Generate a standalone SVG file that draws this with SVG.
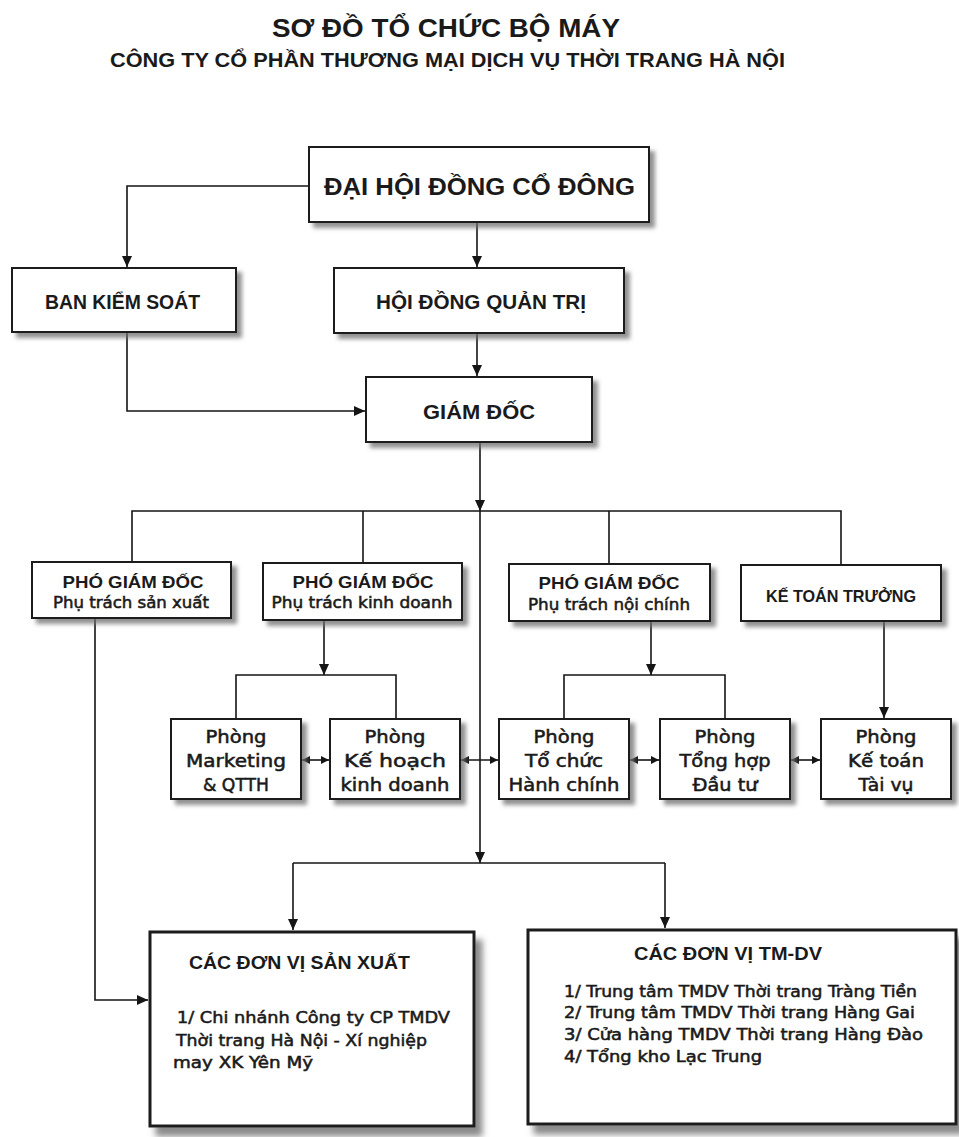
<svg xmlns="http://www.w3.org/2000/svg" width="959" height="1137" viewBox="0 0 959 1137">
<style>
.bg{fill:#ffffff}
.box{fill:#ffffff;stroke:#1c1c1c;stroke-width:2}
.bigbox{fill:#ffffff;stroke:#1c1c1c;stroke-width:3}
.cap{font-family:"Liberation Sans",Arial,sans-serif;font-weight:bold;fill:#1a1a1a}
.mix{font-family:"DejaVu Sans","Liberation Sans",sans-serif;fill:#1a1a1a;stroke:#1a1a1a;stroke-width:0.55}
.mid{text-anchor:middle}
.ln{fill:none;stroke:#151515;stroke-width:1.6}
</style>
<defs>
<filter id="sh" x="-10%" y="-10%" width="130%" height="150%">
<feGaussianBlur in="SourceAlpha" stdDeviation="2.2"/>
<feOffset dx="5" dy="5" result="b"/>
<feFlood flood-color="#6e6e6e" flood-opacity="0.75"/>
<feComposite in2="b" operator="in"/>
<feMerge><feMergeNode/><feMergeNode in="SourceGraphic"/></feMerge>
</filter>
<filter id="shb" x="-10%" y="-10%" width="130%" height="130%">
<feGaussianBlur in="SourceAlpha" stdDeviation="3"/>
<feOffset dx="7" dy="9" result="b"/>
<feFlood flood-color="#6e6e6e" flood-opacity="0.8"/>
<feComposite in2="b" operator="in"/>
<feMerge><feMergeNode/><feMergeNode in="SourceGraphic"/></feMerge>
</filter>
<marker id="ar" markerUnits="userSpaceOnUse" markerWidth="11" markerHeight="10" refX="11" refY="5" orient="auto">
<path d="M0,0 L11,5 L0,10 z" fill="#151515"/>
</marker>
<marker id="ars" markerUnits="userSpaceOnUse" markerWidth="8" markerHeight="8" refX="8" refY="4" orient="auto-start-reverse">
<path d="M0,0 L8,4 L0,8 z" fill="#151515"/>
</marker>
</defs>
<rect class="bg" x="0" y="0" width="959" height="1137"/>

<g id="title">
<text class="cap" x="272" y="37" font-size="25" textLength="348" lengthAdjust="spacingAndGlyphs">SƠ ĐỒ TỔ CHỨC BỘ MÁY</text>
<text class="cap" x="110" y="67" font-size="20.5" textLength="675" lengthAdjust="spacingAndGlyphs">CÔNG TY CỔ PHẦN THƯƠNG MẠI DỊCH VỤ THỜI TRANG HÀ NỘI</text>
</g>

<g id="connectors">
<path class="ln" d="M309,186 H127 V267" marker-end="url(#ar)"/>
<path class="ln" d="M477,222 V267" marker-end="url(#ar)"/>
<path class="ln" d="M477,333 V376" marker-end="url(#ar)"/>
<path class="ln" d="M127,332 V411 H365" marker-end="url(#ar)"/>
<path class="ln" d="M480,442 V511" marker-end="url(#ar)"/>
<path class="ln" d="M480,511 V863" marker-end="url(#ar)"/>
<path class="ln" d="M132,562 V511 H841 V564 M363,511 V562 M609,511 V563"/>
<path class="ln" d="M95,618 V1000 H148" marker-end="url(#ar)"/>
<path class="ln" d="M324,620 V675" marker-end="url(#ar)"/>
<path class="ln" d="M236,719 V675 H396 V719"/>
<path class="ln" d="M651,621 V675" marker-end="url(#ar)"/>
<path class="ln" d="M564,719 V675 H725 V719"/>
<path class="ln" d="M884,621 V718" marker-end="url(#ar)"/>
<path class="ln" d="M293,863 H665"/>
<path class="ln" d="M293,863 V930" marker-end="url(#ar)"/>
<path class="ln" d="M665,863 V928" marker-end="url(#ar)"/>
<path class="ln" d="M302,760 H329" marker-start="url(#ars)" marker-end="url(#ars)"/>
<path class="ln" d="M461,760 H498" marker-start="url(#ars)" marker-end="url(#ars)"/>
<path class="ln" d="M630,760 H659" marker-start="url(#ars)" marker-end="url(#ars)"/>
<path class="ln" d="M791,760 H820" marker-start="url(#ars)" marker-end="url(#ars)"/>
</g>

<g id="dhdcd">
<rect class="box" x="309" y="147" width="340" height="75" filter="url(#sh)"/>
<text class="cap" x="324" y="195" font-size="24" textLength="311" lengthAdjust="spacingAndGlyphs">ĐẠI HỘI ĐỒNG CỔ ĐÔNG</text>
</g>

<g id="bks">
<rect class="box" x="12" y="268" width="224" height="64" filter="url(#sh)"/>
<text class="cap" x="45" y="309" font-size="20" textLength="155" lengthAdjust="spacingAndGlyphs">BAN KIỂM SOÁT</text>
</g>

<g id="hdqt">
<rect class="box" x="334" y="268" width="290" height="65" filter="url(#sh)"/>
<text class="cap" x="376" y="309" font-size="20" textLength="210" lengthAdjust="spacingAndGlyphs">HỘI ĐỒNG QUẢN TRỊ</text>
</g>

<g id="giamdoc">
<rect class="box" x="366" y="377" width="226" height="65" filter="url(#sh)"/>
<text class="cap" x="423" y="419" font-size="20" textLength="112" lengthAdjust="spacingAndGlyphs">GIÁM ĐỐC</text>
</g>

<g id="pgd-sx">
<rect class="box" x="32" y="562" width="199" height="56" filter="url(#sh)"/>
<text class="cap mid" x="133" y="588" font-size="16.5" textLength="141" lengthAdjust="spacingAndGlyphs">PHÓ GIÁM ĐỐC</text>
<text class="mix mid" x="131" y="608" font-size="16" textLength="156" lengthAdjust="spacingAndGlyphs">Phụ trách sản xuất</text>
</g>

<g id="pgd-kd">
<rect class="box" x="263" y="563" width="199" height="57" filter="url(#sh)"/>
<text class="cap mid" x="363" y="588" font-size="16.5" textLength="141" lengthAdjust="spacingAndGlyphs">PHÓ GIÁM ĐỐC</text>
<text class="mix mid" x="362" y="608" font-size="16" textLength="181" lengthAdjust="spacingAndGlyphs">Phụ trách kinh doanh</text>
</g>

<g id="pgd-nc">
<rect class="box" x="509" y="564" width="201" height="57" filter="url(#sh)"/>
<text class="cap mid" x="609" y="589" font-size="16.5" textLength="141" lengthAdjust="spacingAndGlyphs">PHÓ GIÁM ĐỐC</text>
<text class="mix mid" x="609" y="610" font-size="16" textLength="162" lengthAdjust="spacingAndGlyphs">Phụ trách nội chính</text>
</g>

<g id="ktt">
<rect class="box" x="741" y="565" width="200" height="56" filter="url(#sh)"/>
<text class="cap mid" x="841" y="602" font-size="16.5" textLength="150" lengthAdjust="spacingAndGlyphs">KẾ TOÁN TRƯỞNG</text>
</g>

<g id="p-marketing">
<rect class="box" x="171" y="719" width="130" height="80" filter="url(#sh)"/>
<text class="mix mid" x="236" y="743" font-size="18" textLength="61" lengthAdjust="spacingAndGlyphs">Phòng</text>
<text class="mix mid" x="236" y="767" font-size="18" textLength="100" lengthAdjust="spacingAndGlyphs">Marketing</text>
<text class="mix mid" x="236" y="791" font-size="18" textLength="66" lengthAdjust="spacingAndGlyphs">&amp; QTTH</text>
</g>

<g id="p-khkd">
<rect class="box" x="330" y="719" width="130" height="80" filter="url(#sh)"/>
<text class="mix mid" x="395" y="743" font-size="18" textLength="61" lengthAdjust="spacingAndGlyphs">Phòng</text>
<text class="mix mid" x="395" y="767" font-size="18" textLength="102" lengthAdjust="spacingAndGlyphs">Kế hoạch</text>
<text class="mix mid" x="395" y="791" font-size="18" textLength="109" lengthAdjust="spacingAndGlyphs">kinh doanh</text>
</g>

<g id="p-tchc">
<rect class="box" x="499" y="719" width="130" height="80" filter="url(#sh)"/>
<text class="mix mid" x="564" y="743" font-size="18" textLength="61" lengthAdjust="spacingAndGlyphs">Phòng</text>
<text class="mix mid" x="564" y="767" font-size="18" textLength="78" lengthAdjust="spacingAndGlyphs">Tổ chức</text>
<text class="mix mid" x="564" y="791" font-size="18" textLength="111" lengthAdjust="spacingAndGlyphs">Hành chính</text>
</g>

<g id="p-thdt">
<rect class="box" x="660" y="719" width="130" height="80" filter="url(#sh)"/>
<text class="mix mid" x="725" y="743" font-size="18" textLength="61" lengthAdjust="spacingAndGlyphs">Phòng</text>
<text class="mix mid" x="725" y="767" font-size="18" textLength="91" lengthAdjust="spacingAndGlyphs">Tổng hợp</text>
<text class="mix mid" x="725" y="791" font-size="18" textLength="65" lengthAdjust="spacingAndGlyphs">Đầu tư</text>
</g>

<g id="p-kttv">
<rect class="box" x="821" y="719" width="130" height="80" filter="url(#sh)"/>
<text class="mix mid" x="886" y="743" font-size="18" textLength="61" lengthAdjust="spacingAndGlyphs">Phòng</text>
<text class="mix mid" x="886" y="767" font-size="18" textLength="76" lengthAdjust="spacingAndGlyphs">Kế toán</text>
<text class="mix mid" x="886" y="791" font-size="18" textLength="55" lengthAdjust="spacingAndGlyphs">Tài vụ</text>
</g>

<g id="dv-sx">
<rect class="bigbox" x="150" y="932" width="324" height="194" filter="url(#shb)"/>
<text class="cap" x="189" y="969" font-size="17.5" textLength="221" lengthAdjust="spacingAndGlyphs">CÁC ĐƠN VỊ SẢN XUẤT</text>
<text class="mix" x="177" y="1023" font-size="16.5" textLength="273" lengthAdjust="spacingAndGlyphs">1/ Chi nhánh Công ty CP TMDV</text>
<text class="mix" x="176" y="1046" font-size="16.5" textLength="251" lengthAdjust="spacingAndGlyphs">Thời trang Hà Nội - Xí nghiệp</text>
<text class="mix" x="173" y="1068" font-size="16.5" textLength="140" lengthAdjust="spacingAndGlyphs">may XK Yên Mỹ</text>
</g>

<g id="dv-tmdv">
<rect class="bigbox" x="528" y="930" width="428" height="194" filter="url(#shb)"/>
<text class="cap" x="634" y="960" font-size="17.5" textLength="188" lengthAdjust="spacingAndGlyphs">CÁC ĐƠN VỊ TM-DV</text>
<text class="mix" x="564" y="997" font-size="16" textLength="353" lengthAdjust="spacingAndGlyphs">1/ Trung tâm TMDV Thời trang Tràng Tiền</text>
<text class="mix" x="564" y="1018" font-size="16" textLength="351" lengthAdjust="spacingAndGlyphs">2/ Trung tâm TMDV Thời trang Hàng Gai</text>
<text class="mix" x="564" y="1040" font-size="16" textLength="359" lengthAdjust="spacingAndGlyphs">3/ Cửa hàng TMDV Thời trang Hàng Đào</text>
<text class="mix" x="564" y="1062" font-size="16" textLength="198" lengthAdjust="spacingAndGlyphs">4/ Tổng kho Lạc Trung</text>
</g>
</svg>
